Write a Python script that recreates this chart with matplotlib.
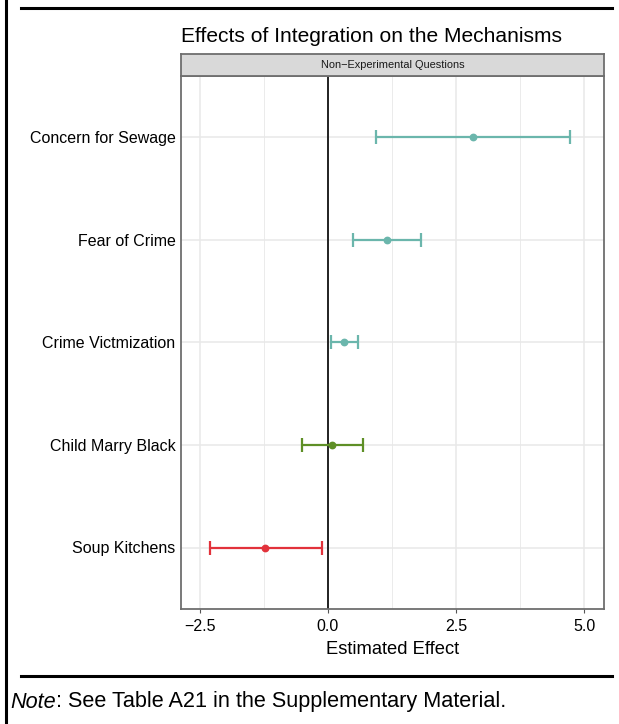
import matplotlib
matplotlib.use("Agg")
import matplotlib.pyplot as plt
from matplotlib.lines import Line2D

plt.rcParams['font.family'] = ['Liberation Sans', 'DejaVu Sans']

categories = ["Concern for Sewage", "Fear of Crime", "Crime Victmization",
              "Child Marry Black", "Soup Kitchens"]
estimates = [2.83, 1.15, 0.32, 0.085, -1.22]
lower = [0.94, 0.49, 0.06, -0.50, -2.30]
upper = [4.73, 1.81, 0.58, 0.68, -0.12]
colors = ["#6BB6AC", "#6BB6AC", "#6BB6AC", "#5E8F26", "#E2323B"]
xticks = [-2.5, 0.0, 2.5, 5.0]
xticklabels = ["\u22122.5", "0.0", "2.5", "5.0"]

W, H = 619, 724
fig = plt.figure(figsize=(W / 100, H / 100), dpi=100)

def fx(px):
    return px / W

def fy(py):
    return 1 - py / H

ax_l, ax_r, ax_t, ax_b = 181, 604, 76, 609
ax = fig.add_axes([fx(ax_l), fy(ax_b), fx(ax_r - ax_l), (ax_b - ax_t) / H])

n = len(categories)
ypos = list(range(n, 0, -1))
for y, e, lo, hi, c in zip(ypos, estimates, lower, upper, colors):
    ax.errorbar([e], [y], xerr=[[e - lo], [hi - e]], fmt='o', color=c,
                ecolor=c, elinewidth=1.6, capsize=4.7, capthick=1.6,
                markersize=4.6, zorder=3)

ax.axvline(0, color='black', linewidth=1.2, zorder=2)
ax.set_xlim(-2.87, 5.39)
ax.set_ylim(0.4, n + 0.6)
ax.set_xticks(xticks)
ax.set_xticklabels(xticklabels, fontsize=11.5)
ax.set_xticks([-1.25, 1.25, 3.75], minor=True)
ax.set_yticks(ypos)
ax.set_yticklabels(categories, fontsize=11.5)
ax.grid(True, which='major', color='#E8E8E8', linewidth=1.1, zorder=0)
ax.grid(True, which='minor', axis='x', color='#EBEBEB', linewidth=0.7, zorder=0)
ax.tick_params(axis='both', which='both', length=0, pad=4, colors='black')
ax.tick_params(axis='x', which='major', length=3, color='#555555', pad=4.5)
ax.set_axisbelow(True)
for s in ax.spines.values():
    s.set_color('#6E6E6E')
    s.set_linewidth(1.3)
ax.set_xlabel("Estimated Effect", fontsize=13.2, labelpad=4.5)

# strip
strip = fig.add_axes([fx(ax_l), fy(ax_t), fx(ax_r - ax_l), (ax_t - 54) / H])
strip.set_facecolor('#D9D9D9')
strip.set_xticks([])
strip.set_yticks([])
for s in strip.spines.values():
    s.set_color('#6E6E6E')
    s.set_linewidth(1.3)
strip.text(0.5, 0.5, "Non\u2212Experimental Questions", fontsize=7.9,
           ha='center', va='center', transform=strip.transAxes, color='#1A1A1A')

# title
fig.text(fx(181), fy(37), "Effects of Integration on the Mechanisms",
         fontsize=15.1, ha='left', va='center')

# frame lines
fig.add_artist(Line2D([fx(6), fx(6)], [0, 1], color='black', linewidth=2.2))
fig.add_artist(Line2D([fx(21), fx(612)], [fy(8), fy(8)], color='black', linewidth=2.2))
fig.add_artist(Line2D([fx(21), fx(612)], [fy(676), fy(676)], color='black', linewidth=2.2))

# note
t1 = fig.text(fx(10), fy(702), "Note", fontsize=15.6, ha='left', va='center',
              style='italic')
fig.canvas.draw()
bb = t1.get_window_extent(renderer=fig.canvas.get_renderer())
fig.text(bb.x1 / W, fy(702), ": See Table A21 in the Supplementary Material.",
         fontsize=15.6, ha='left', va='center')
fig.savefig("out.png", dpi=100)
